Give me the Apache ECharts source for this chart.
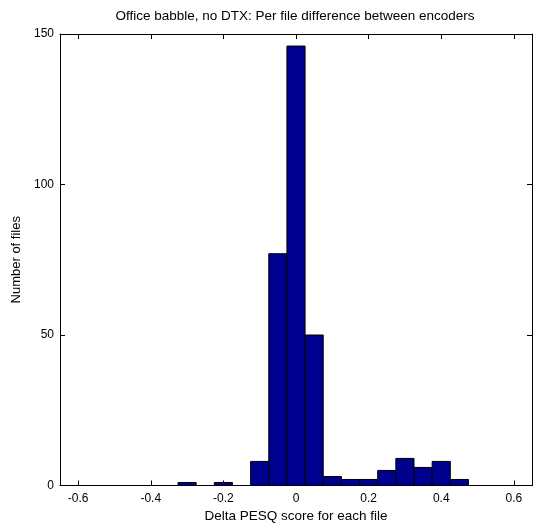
<!DOCTYPE html>
<html>
<head>
<meta charset="utf-8">
<script src="https://cdn.jsdelivr.net/npm/echarts@6/dist/echarts.min.js"></script>
<style>html,body{margin:0;padding:0;background:#fff;}#c{width:536px;height:526px;}</style>
</head>
<body>
<div id="c"></div>
<script>
const binCenters = [-0.6,-0.55,-0.5,-0.45,-0.4,-0.35,-0.3,-0.25,-0.2,-0.15,-0.1,-0.05,0,0.05,0.1,0.15,0.2,0.25,0.3,0.35,0.4,0.45,0.5,0.55,0.6];
const counts =     [0,0,0,0,0,0,1,0,1,0,8,77,146,50,3,2,2,5,9,6,8,2,0,0,0];
const binWidth = 0.05;
const xTicks = [-0.6,-0.4,-0.2,0,0.2,0.4,0.6];
const yTicks = [0,50,100,150];
const titleText = 'Office babble, no DTX: Per file difference between encoders';
const xLabel = 'Delta PESQ score for each file';
const yLabel = 'Number of files';

const font = 'Liberation Sans, Arial, sans-serif';
const chart = echarts.init(document.getElementById('c'), null, {renderer:'canvas'});
const data = binCenters.map((c,i)=>[c,counts[i]]);
const fmtX = v => {
  const r = Math.round(v*10)/10;
  return r === 0 ? '0' : String(r);
};
const axisLine = {show:true, onZero:false, lineStyle:{color:'#000', width:1}};
chart.setOption({
  animation:false,
  title:{text:titleText, left:295, textAlign:'center', top:9, padding:0,
    textStyle:{fontFamily:font, fontSize:13.5, fontWeight:'normal', color:'#000'}},
  grid:{left:60, right:4, top:34, bottom:40.5, show:false, containLabel:false, outerBoundsMode:'none'},
  xAxis:[
    {type:'value', min:-0.65, max:0.65, position:'bottom',
      name:xLabel, nameLocation:'middle', nameGap:22,
      nameTextStyle:{fontFamily:font, fontSize:13.5, color:'#000'},
      axisLine:axisLine, splitLine:{show:false},
      axisLabel:{show:true, margin:7, fontFamily:font, fontSize:12, color:'#000',
        formatter:fmtX, customValues:xTicks},
      axisTick:{show:true, inside:true, length:5, lineStyle:{color:'#000'}, customValues:xTicks}
    },
    {type:'value', min:-0.65, max:0.65, position:'top',
      axisLine:axisLine, splitLine:{show:false},
      axisLabel:{show:false},
      axisTick:{show:true, inside:true, length:5, lineStyle:{color:'#000'}, customValues:xTicks}
    }
  ],
  yAxis:[
    {type:'value', min:0, max:150, interval:50, position:'left',
      name:yLabel, nameLocation:'middle', nameGap:34, nameRotate:90,
      nameTextStyle:{fontFamily:font, fontSize:13, color:'#000'},
      axisLine:axisLine, splitLine:{show:false},
      axisLabel:{show:true, margin:6, fontFamily:font, fontSize:12, color:'#000', customValues:yTicks},
      axisTick:{show:true, inside:true, length:5, lineStyle:{color:'#000'}, customValues:yTicks}
    },
    {type:'value', min:0, max:150, interval:50, position:'right',
      axisLine:axisLine, splitLine:{show:false},
      axisLabel:{show:false},
      axisTick:{show:true, inside:true, length:5, lineStyle:{color:'#000'}, customValues:yTicks}
    }
  ],
  series:[{
    type:'custom',
    xAxisIndex:0, yAxisIndex:0,
    data:data,
    clip:true,
    renderItem:function(params, api){
      const c = api.value(0), v = api.value(1);
      const p1 = api.coord([c - binWidth/2, v]);
      const p2 = api.coord([c + binWidth/2, 0]);
      return {
        type:'rect',
        shape:{x:p1[0], y:p1[1], width:p2[0]-p1[0], height:p2[1]-p1[1]},
        style:{fill:'#00008F', stroke:'#000', lineWidth:1}
      };
    }
  }]
});
</script>
</body>
</html>
